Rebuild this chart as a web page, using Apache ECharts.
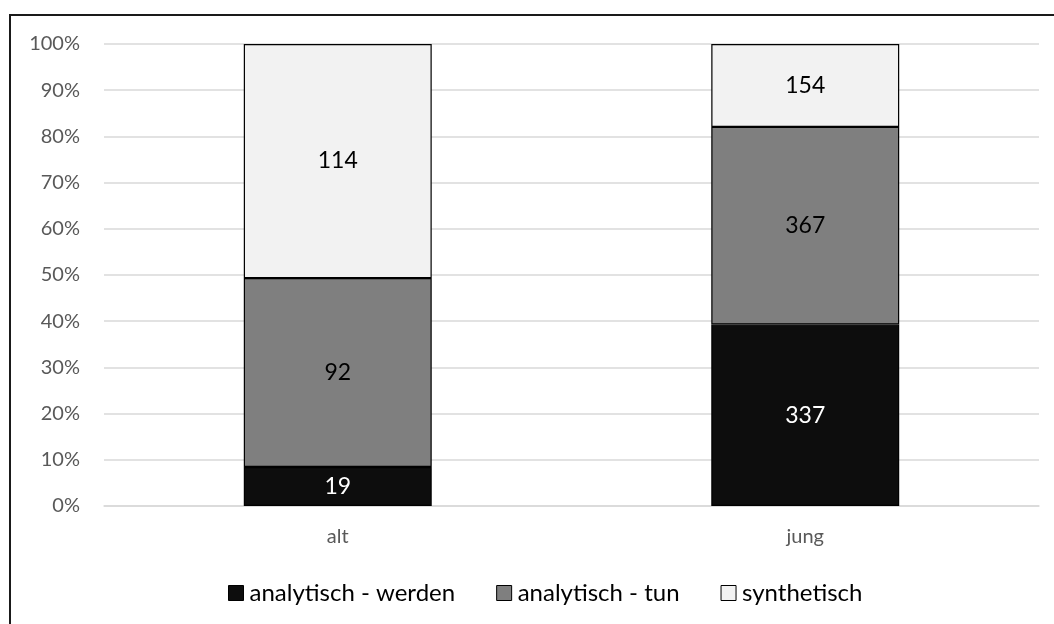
<!DOCTYPE html>
<html><head><meta charset="utf-8">
<script src="https://cdn.jsdelivr.net/npm/echarts@6/dist/echarts.min.js"></script>
<style>html,body{margin:0;padding:0;background:#fff}#c{width:1054px;height:624px}</style>
</head><body><div id="c"></div>
<script>
const categories = ['alt', 'jung'];
const seriesNames = ['analytisch - werden', 'analytisch - tun', 'synthetisch'];
const werden = [19, 337];
const tun = [92, 367];
const synthetisch = [114, 154];
const yTicks = ['0%','10%','20%','30%','40%','50%','60%','70%','80%','90%','100%'];

const raw = [werden, tun, synthetisch];
const totals = categories.map((_, i) => raw.reduce((s, a) => s + a[i], 0));
const colors = ['#0d0d0d', '#7f7f7f', '#f2f2f2'];
const labelColors = ['#ffffff', '#000000', '#000000'];
const font = 'Lato, "Open Sans", sans-serif';

const chart = echarts.init(document.getElementById('c'));
chart.setOption({
  animation: false,
  graphic: [{ type: 'rect', silent: true, shape: { x: 10, y: 15, width: 1200, height: 800 }, style: { fill: 'none', stroke: '#1a1a1a', lineWidth: 2 } }],
  legend: {
    top: 576, left: 223, itemWidth: 15, itemHeight: 15, itemGap: 41,
    icon: 'rect',
    itemStyle: { borderColor: '#000', borderWidth: 1 },
    textStyle: { fontFamily: font, fontSize: 24, color: '#000', padding: [0, 0, 0, 1] },
    data: seriesNames
  },
  grid: { left: 104, right: 15, top: 44, bottom: 118, containLabel: false },
  xAxis: {
    type: 'category', data: categories,
    axisLine: { lineStyle: { color: '#d9d9d9', width: 1.5 } },
    axisTick: { show: false },
    axisLabel: { fontFamily: font, fontSize: 20, color: '#595959', margin: 21 }
  },
  yAxis: {
    type: 'value', min: 0, max: 100, interval: 10,
    axisLine: { show: false }, axisTick: { show: false },
    splitLine: { lineStyle: { color: '#d9d9d9', width: 1.5 } },
    axisLabel: { fontFamily: font, fontSize: 20, color: '#595959', margin: 24, formatter: v => yTicks[Math.round(v / 10)] }
  },
  series: raw.map((arr, k) => ({
    name: seriesNames[k], type: 'bar', stack: 'total', barWidth: '40.2%',
    itemStyle: { color: colors[k], borderColor: '#000', borderWidth: 1.2 },
    label: {
      show: true, position: 'inside', fontFamily: font, fontSize: 23, color: labelColors[k],
      formatter: p => String(arr[p.dataIndex])
    },
    data: arr.map((v, i) => v / totals[i] * 100)
  }))
});
</script></body></html>
